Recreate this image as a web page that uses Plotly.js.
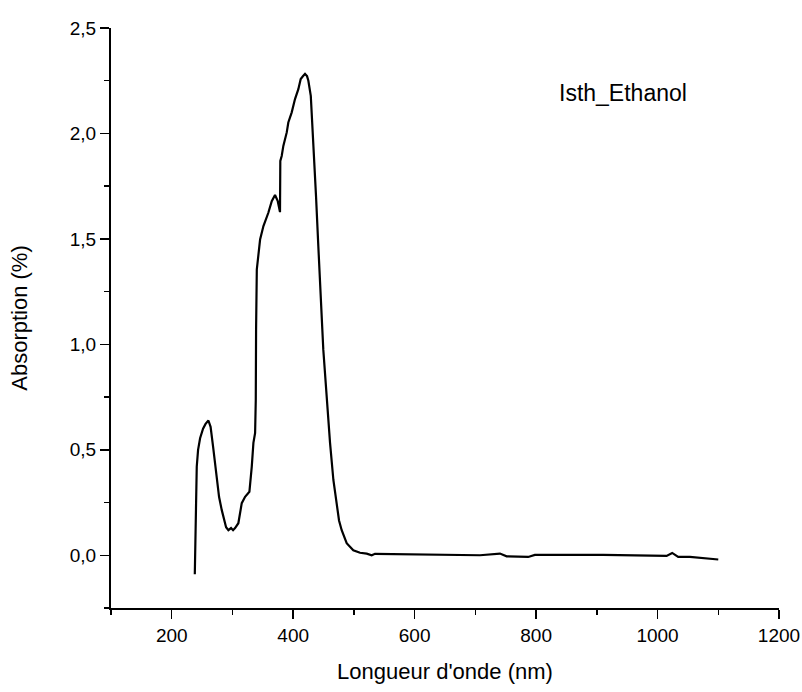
<!DOCTYPE html>
<html>
<head>
<meta charset="utf-8">
<script src="https://cdn.plot.ly/plotly-3.0.1.min.js"></script>
<style>html,body{margin:0;padding:0;background:#fff;}#chart{width:802px;height:692px;}</style>
</head>
<body>
<div id="chart"></div>
<script>
var wavelength = [238.0,239.5,241.2,243.4,246.7,251.6,255.7,260.4,264.0,268.1,274.2,278.0,282.4,286.2,289.5,293.3,297.7,301.0,304.3,309.7,315.3,320.8,327.9,331.8,334.5,337.3,338.4,338.9,340.1,345.5,351.0,359.1,364.7,370.1,374.6,378.3,378.8,381.1,383.8,389.4,392.0,397.6,403.0,408.5,412.4,416.3,419.5,422.8,425.0,429.0,432.2,434.9,437.6,441.4,444.2,448.0,449.6,455.2,460.7,466.2,471.7,475.5,479.9,488.1,499.0,510.0,521.1,529.3,534.7,586.9,707.6,740.5,751.5,787.0,798.0,910.5,1014.9,1024.1,1034.0,1053.3,1100];
var absorption = [-0.09,0.25,0.42,0.50,0.555,0.60,0.623,0.639,0.609,0.515,0.372,0.276,0.214,0.167,0.133,0.119,0.129,0.119,0.129,0.152,0.247,0.277,0.301,0.42,0.533,0.58,0.735,1.07,1.355,1.497,1.561,1.624,1.679,1.708,1.679,1.627,1.87,1.893,1.941,2.005,2.052,2.10,2.163,2.21,2.258,2.272,2.282,2.272,2.25,2.178,2.02,1.862,1.703,1.466,1.26,1.07,0.975,0.737,0.533,0.357,0.23,0.165,0.119,0.057,0.024,0.012,0.008,0.0,0.007,0.005,0.0,0.008,-0.005,-0.008,0.002,0.002,-0.003,0.011,-0.008,-0.008,-0.02];
var xTickVals = [200,400,600,800,1000,1200];
var xTickText = ["200","400","600","800","1000","1200"];
var yTickVals = [0,0.5,1,1.5,2,2.5];
var yTickText = ["0,0","0,5","1,0","1,5","2,0","2,5"];
var seriesName = "Isth_Ethanol";

var fam = "Arial, 'Liberation Sans', sans-serif";
var trace = {
  x: wavelength, y: absorption, type: 'scatter', mode: 'lines',
  line: {color: '#000000', width: 2.2}, name: seriesName, hoverinfo: 'skip'
};
var layout = {
  width: 802, height: 692,
  margin: {l: 111, r: 23, t: 28, b: 84},
  paper_bgcolor: '#ffffff', plot_bgcolor: '#ffffff',
  showlegend: false,
  font: {family: fam, color: '#000000'},
  xaxis: {
    range: [100, 1200], showgrid: false, zeroline: false,
    showline: true, linecolor: '#000', linewidth: 2,
    ticks: 'outside', ticklen: 9, tickwidth: 1.5, tickcolor: '#000',
    tickvals: xTickVals, ticktext: xTickText,
    tickfont: {family: fam, size: 19, color: '#000'},
    minor: {dtick: 100, tick0: 0, ticks: 'outside', ticklen: 5, tickwidth: 1.5, tickcolor: '#000', showgrid: false},
    title: {text: "Longueur d'onde (nm)", font: {family: fam, size: 22, color: '#000'}, standoff: 19}
  },
  yaxis: {
    range: [-0.25, 2.5], showgrid: false, zeroline: false,
    showline: true, linecolor: '#000', linewidth: 2,
    ticks: 'outside', ticklen: 9, tickwidth: 1.5, tickcolor: '#000',
    tickvals: yTickVals, ticktext: yTickText,
    tickfont: {family: fam, size: 19, color: '#000'},
    minor: {dtick: 0.25, tick0: 0, ticks: 'outside', ticklen: 5, tickwidth: 1.5, tickcolor: '#000', showgrid: false},
    title: {text: "Absorption (%)", font: {family: fam, size: 22, color: '#000'}, standoff: 36}
  },
  annotations: [{
    x: 943, y: 2.19, xref: 'x', yref: 'y', text: seriesName, showarrow: false,
    font: {family: fam, size: 23, color: '#000'}, xanchor: 'center', yanchor: 'middle'
  }]
};
Plotly.newPlot('chart', [trace], layout, {displayModeBar: false, staticPlot: true});
</script>
</body>
</html>
